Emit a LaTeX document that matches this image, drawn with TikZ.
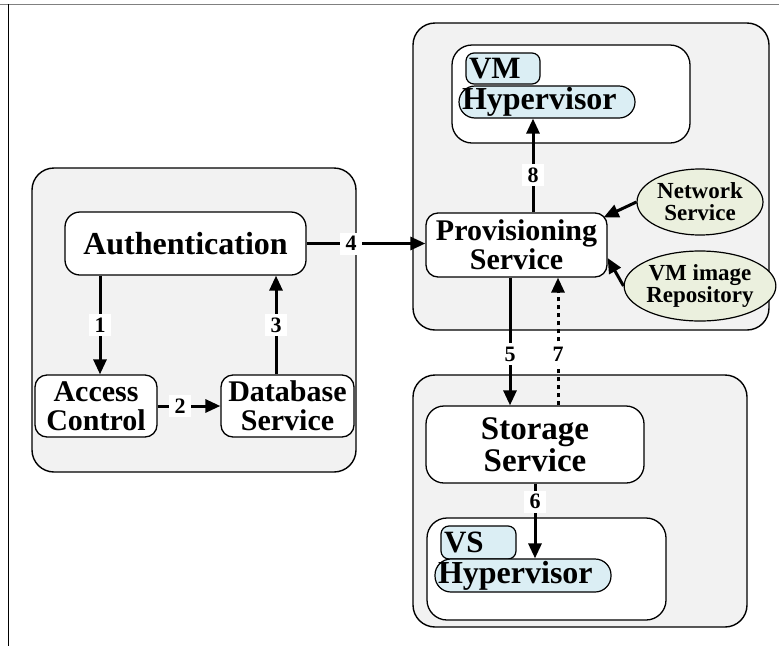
\documentclass[tikz,border=0pt]{standalone}
\usepackage{fontspec}
\setmainfont{Liberation Serif}
\usetikzlibrary{arrows.meta,shapes.geometric}
\definecolor{cont}{RGB}{242,242,242}
\definecolor{lblue}{RGB}{219,238,244}
\definecolor{lgreen}{RGB}{235,240,222}
\begin{document}
\begin{tikzpicture}[x=1pt,y=-1pt,
  container/.style={draw, line width=1.4pt, fill=cont, rounded corners=22pt},
  box/.style={draw, line width=1.3pt, fill=white, rounded corners=12pt, inner sep=0pt, align=center,
    font=\bfseries\fontsize{30}{29}\selectfont},
  host/.style={draw, line width=1.3pt, fill=white, rounded corners=20pt, inner sep=0pt},
  vbox/.style={draw, line width=1.2pt, fill=lblue, rounded corners=8pt, inner ysep=0pt, inner xsep=3pt,
    anchor=center, align=left, font=\bfseries\fontsize{31}{31}\selectfont},
  pill/.style={draw, line width=1.2pt, fill=lblue, rounded corners=16pt, inner ysep=0pt, inner xsep=3pt,
    align=left, font=\bfseries\fontsize{32}{32}\selectfont},
  oval/.style={ellipse, draw, line width=1.2pt, fill=lgreen, inner sep=0pt, align=center,
    font=\bfseries\fontsize{23}{22}\selectfont},
  arr/.style={line width=3pt, -{Triangle[length=15pt,width=13pt]}},
  lbl/.style={fill=white, inner sep=0pt, minimum width=22pt, minimum height=22pt,
    font=\bfseries\fontsize{22}{22}\selectfont}]
\useasboundingbox (0,0) rectangle (779,646);
% frame
\draw[gray, line width=1pt] (0,4) -- (779,4);
\draw[line width=1pt] (8,4) -- (8,646);
% containers
\draw[container] (32,168) rectangle (356,472);
\draw[container] (413,23) rectangle (769,330);
\draw[container] (413,375) rectangle (747,627);
% left group
\node[box, minimum width=241pt, minimum height=63pt, rounded corners=15pt,
  font=\bfseries\fontsize{32}{32}\selectfont] (auth) at (185.5,243.5) {Authentication};
\node[box, minimum width=122pt, minimum height=62pt] (acc) at (96,406) {Access\\Control};
\node[box, minimum width=133pt, minimum height=62pt] (db) at (287.5,406) {Database\\Service};
% provisioning group
\node[host, minimum width=238pt, minimum height=98pt] (vmhost) at (571,94) {};
\node[vbox, minimum width=74pt, minimum height=31pt, text width=68pt] (vm) at (503,68.5) {VM};
\node[pill, minimum width=176pt, minimum height=32pt, text width=170pt] (hyp1) at (547,102) {Hypervisor};
\node[box, minimum width=181pt, minimum height=64pt] (prov) at (516.5,245) {Provisioning\\Service};
\node[oval, minimum width=126pt, minimum height=66pt] (net) at (700,202) {Network\\Service};
\node[oval, minimum width=126pt, minimum height=70pt] (repo) at (700,286) {VM image\\Repository};
% storage group
\node[box, minimum width=218pt, minimum height=77pt, rounded corners=18pt,
  font=\bfseries\fontsize{33}{32}\selectfont] (stor) at (535,444.5) {Storage\\Service};
\node[host, minimum width=239pt, minimum height=102pt] (vshost) at (546.5,569) {};
\node[vbox, minimum width=75pt, minimum height=33pt, text width=69pt] (vs) at (478.5,542.5) {VS};
\node[pill, minimum width=176pt, minimum height=33pt, text width=170pt] (hyp2) at (523,575.5) {Hypervisor};
% connectors
\draw[arr] ([xshift=4pt]acc.north |- auth.south) -- node[lbl, pos=0.5] {1} ([xshift=4pt]acc.north);
\draw[arr] (acc.east) -- node[lbl, pos=0.36] {2} (db.west);
\draw[arr] ([xshift=-11.5pt]db.north) -- node[lbl, pos=0.5] {3} ([xshift=-11.5pt]db.north |- auth.south);
\draw[arr] (auth.east) -- node[lbl, pos=0.375] {4} (auth.east -| prov.west);
\draw[arr] ([xshift=-6.5pt]prov.south) -- node[lbl, pos=0.6] {5} ([xshift=-6.5pt]prov.south |- stor.north);
\draw[arr, dash pattern=on 4pt off 4pt] ([xshift=41.5pt]prov.south |- stor.north) -- node[lbl, pos=0.4] {7} ([xshift=41.5pt]prov.south);
\draw[arr] (stor.south) -- node[lbl, pos=0.24] {6} (stor.south |- hyp2.north);
\draw[arr] ([xshift=16.5pt]prov.north) -- node[lbl, pos=0.4] {8} ([xshift=16.5pt]prov.north |- hyp1.south);
\draw[arr] (net.west) -- ([xshift=-4pt,yshift=-5pt]prov.north east);
\draw[arr] (repo.west) -- ([yshift=-13pt]prov.east);
\end{tikzpicture}
\end{document}
